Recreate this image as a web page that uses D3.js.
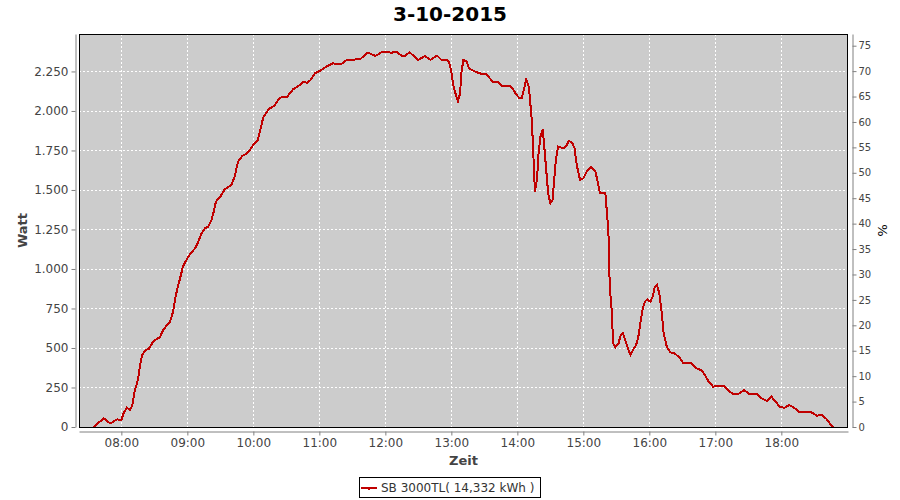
<!DOCTYPE html>
<html>
<head>
<meta charset="utf-8">
<script src="https://cdn.jsdelivr.net/npm/d3@7"></script>
<style>
  html, body { margin: 0; padding: 0; background: #ffffff; }
  svg { display: block; font-family: "DejaVu Sans", Verdana, sans-serif; }
</style>
</head>
<body>
<svg id="chart" width="900" height="500"></svg>
<script>
// ---- data ----
const chartTitle = "3-10-2015";
const seriesName = "SB 3000TL( 14,332 kWh )";
const times = ["07:35","07:38","07:44","07:49","07:51","07:56","08:00","08:02","08:05","08:08","08:10","08:12","08:15","08:17","08:19","08:22","08:25","08:28","08:31","08:35","08:38","08:42","08:44","08:47","08:49","08:51","08:53","08:56","09:00","09:03","09:07","09:10","09:13","09:16","09:19","09:22","09:24","09:26","09:30","09:34","09:40","09:43","09:46","09:50","09:55","10:00","10:04","10:07","10:09","10:14","10:19","10:24","10:31","10:36","10:41","10:45","10:49","10:52","10:56","11:01","11:06","11:12","11:20","11:25","11:37","11:44","11:51","11:57","12:06","12:10","12:15","12:18","12:22","12:30","12:36","12:41","12:47","12:51","12:56","12:58","13:00","13:02","13:05","13:06","13:08","13:09","13:11","13:14","13:16","13:20","13:24","13:28","13:31","13:35","13:38","13:42","13:46","13:53","13:56","13:59","14:02","14:04","14:06","14:08","14:10","14:11","14:13","14:14","14:15","14:16","14:18","14:19","14:21","14:23","14:24","14:26","14:28","14:30","14:32","14:33","14:35","14:37","14:42","14:45","14:47","14:50","14:52","14:54","14:57","15:00","15:03","15:07","15:11","15:13","15:15","15:20","15:21","15:22","15:23","15:24","15:26","15:27","15:29","15:32","15:34","15:36","15:39","15:41","15:43","15:45","15:48","15:50","15:52","15:54","15:56","15:58","16:01","16:03","16:05","16:07","16:09","16:11","16:13","16:16","16:19","16:23","16:28","16:31","16:38","16:43","16:48","16:51","16:54","16:58","17:01","17:08","17:12","17:16","17:21","17:26","17:31","17:38","17:42","17:47","17:51","17:54","17:59","18:03","18:07","18:11","18:16","18:26","18:29","18:32","18:37","18:41","18:44","18:47"];
const watts = [0,19,55,27,27,48,44,87,122,108,139,223,297,392,456,487,494,530,551,568,614,650,660,730,815,878,930,1015,1068,1099,1131,1173,1226,1257,1268,1310,1363,1426,1458,1504,1532,1584,1679,1715,1736,1785,1816,1901,1958,2013,2032,2084,2091,2137,2158,2182,2179,2196,2239,2255,2280,2301,2297,2323,2327,2369,2348,2373,2369,2375,2348,2350,2371,2323,2348,2323,2350,2323,2325,2308,2249,2154,2080,2063,2112,2238,2323,2312,2270,2255,2242,2234,2236,2207,2182,2186,2158,2158,2137,2105,2080,2080,2137,2200,2165,2112,1954,1816,1648,1489,1574,1711,1837,1884,1816,1648,1479,1416,1437,1521,1690,1774,1764,1785,1812,1795,1764,1658,1563,1574,1616,1648,1616,1553,1483,1479,1394,1310,1194,888,720,530,504,530,582,593,530,487,456,487,519,572,666,751,793,808,793,825,888,899,846,741,593,504,473,466,435,403,403,372,356,323,287,255,259,259,230,209,209,234,209,209,182,165,192,167,125,122,139,125,97,97,87,72,76,51,23,0];
const xTickHours = [8,9,10,11,12,13,14,15,16,17,18];
const yTicksWatt = [0,250,500,750,1000,1250,1500,1750,2000,2250];
const yTicksPct = [0,5,10,15,20,25,30,35,40,45,50,55,60,65,70,75];
const xLabel = "Zeit";
const yLabel = "Watt";
const yLabelRight = "%";

// ---- layout ----
const svg = d3.select("#chart");
const plot = {left: 79, right: 848, top: 34, bottom: 427};
const day = (h, m, s) => new Date(2015, 9, 3, h, m, s || 0);
const parse = d3.timeParse("%H:%M");
const toDay = t => { const p = parse(t); return day(p.getHours(), p.getMinutes()); };
const data = times.map((t, i) => ({t: toDay(t), v: watts[i]}));

const x = d3.scaleTime().domain([day(7, 21, 30), day(19, 0, 36)]).range([plot.left, plot.right]);
const y = d3.scaleLinear().domain([0, 2487]).range([plot.bottom, plot.top]);
const yR = d3.scaleLinear().domain([0, 77.3]).range([plot.bottom, plot.top]);

const locale = d3.formatLocale({decimal: ",", thousands: ".", grouping: [3], currency: ["", "€"]});
const fmtW = locale.format(",d");
const fmtT = d3.timeFormat("%H:%M");
const textCol = "#444444";

// title
svg.append("text").attr("x", 450).attr("y", 21).attr("text-anchor", "middle")
  .style("font-size", "20px").style("font-weight", "bold").attr("fill", "#000").text(chartTitle);

// plot background
svg.append("rect").attr("x", plot.left).attr("y", plot.top)
  .attr("width", plot.right - plot.left).attr("height", plot.bottom - plot.top)
  .attr("fill", "#cccccc");

// gridlines
const grid = svg.append("g").attr("stroke", "#ffffff").attr("stroke-width", 1)
  .attr("stroke-dasharray", "2,2").attr("shape-rendering", "crispEdges");
yTicksWatt.filter(d => d > 0).forEach(d => {
  grid.append("line").attr("x1", plot.left).attr("x2", plot.right)
    .attr("y1", Math.round(y(d)) + 0.5).attr("y2", Math.round(y(d)) + 0.5);
});
xTickHours.forEach(h => {
  const xx = Math.round(x(day(h, 0))) + 0.5;
  grid.append("line").attr("x1", xx).attr("x2", xx).attr("y1", plot.top).attr("y2", plot.bottom);
});

// series line
const line = d3.line().x(d => x(d.t)).y(d => y(d.v));
svg.append("path").datum(data).attr("d", line)
  .attr("fill", "none").attr("stroke", "#c00000").attr("stroke-width", 2)
  .attr("stroke-linejoin", "miter").attr("shape-rendering", "crispEdges");

// plot border
svg.append("rect").attr("x", plot.left + 0.5).attr("y", plot.top + 0.5)
  .attr("width", plot.right - plot.left - 1).attr("height", plot.bottom - plot.top)
  .attr("fill", "none").attr("stroke", "#000").attr("stroke-width", 1);

function styleAxis(g, size) {
  g.select(".domain").attr("stroke", "#808080");
  g.selectAll(".tick line").attr("stroke", "#808080");
  g.selectAll(".tick text").attr("fill", textCol).style("font-size", size)
    .style("font-family", "'DejaVu Sans', sans-serif");
}

// left axis
const gL = svg.append("g").attr("transform", "translate(75.5,0)")
  .call(d3.axisLeft(y).tickValues(yTicksWatt).tickFormat(fmtW).tickSizeInner(4).tickSizeOuter(0).tickPadding(3));
styleAxis(gL, "12px");

// right axis
const gR = svg.append("g").attr("transform", "translate(852.5,0)")
  .call(d3.axisRight(yR).tickValues(yTicksPct).tickFormat(d3.format("d")).tickSizeInner(4).tickSizeOuter(0).tickPadding(2));
styleAxis(gR, "10px");

// bottom axis
const gB = svg.append("g").attr("transform", "translate(0,431.5)")
  .call(d3.axisBottom(x).tickValues(xTickHours.map(h => day(h, 0))).tickFormat(fmtT).tickSizeInner(4).tickSizeOuter(0).tickPadding(3));
styleAxis(gB, "12px");

// axis labels
svg.append("text").attr("x", (plot.left + plot.right) / 2).attr("y", 465).attr("text-anchor", "middle")
  .style("font-size", "13px").style("font-weight", "bold").attr("fill", textCol).text(xLabel);
svg.append("text").attr("transform", `translate(27,${(plot.top + plot.bottom) / 2}) rotate(-90)`)
  .attr("text-anchor", "middle").style("font-size", "13px").style("font-weight", "bold")
  .attr("fill", textCol).text(yLabel);
svg.append("text").attr("transform", `translate(878,${(plot.top + plot.bottom) / 2}) rotate(90)`)
  .attr("text-anchor", "middle").style("font-size", "13px").attr("fill", "#000").text(yLabelRight);

// legend
const lg = svg.append("g");
lg.append("rect").attr("x", 359.5).attr("y", 477.5).attr("width", 181).attr("height", 20)
  .attr("fill", "#fff").attr("stroke", "#000").attr("stroke-width", 1);
lg.append("line").attr("x1", 361).attr("x2", 377).attr("y1", 488).attr("y2", 488)
  .attr("stroke", "#c00000").attr("stroke-width", 2);
lg.append("rect").attr("x", 368).attr("y", 488).attr("width", 2).attr("height", 2).attr("fill", "#c00000");
lg.append("text").attr("x", 381).attr("y", 492).style("font-size", "12px").attr("fill", "#333")
  .text(seriesName);
</script>
</body>
</html>
